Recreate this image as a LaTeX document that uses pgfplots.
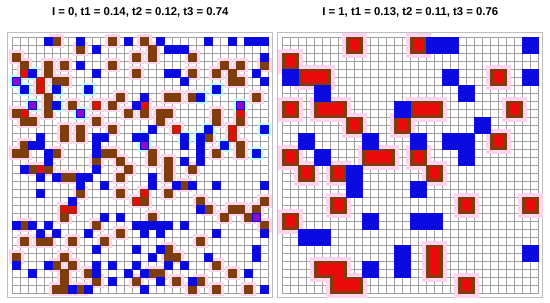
\documentclass[border=0pt]{standalone}
\usepackage{pgfplots}
\pgfplotsset{compat=1.18}
\usepackage{pgfplotstable}
\usepackage{fontspec}
\setmainfont{Liberation Sans}

\definecolor{cbrown}{RGB}{125,62,12}
\definecolor{cblue}{RGB}{10,10,225}
\definecolor{cred}{RGB}{235,10,10}
\definecolor{cpurp}{RGB}{140,10,200}
\definecolor{cpink}{RGB}{255,212,240}
\definecolor{ccyan}{RGB}{195,255,248}
\definecolor{cgrid}{RGB}{160,160,160}
\definecolor{cframe}{RGB}{190,190,190}

% ---------- left panel (I = 0): single cells, column c, row r ----------
\pgfplotstableread{
c r
5 0
12 0
16 0
8 1
17 1
0 2
15 2
17 2
22 2
1 3
4 3
6 3
12 3
26 3
28 3
31 3
4 4
15 4
22 4
25 4
27 4
5 5
6 5
27 5
28 5
4 7
13 7
19 7
20 7
22 7
30 7
4 8
7 8
12 8
0 9
4 9
14 9
16 9
18 9
19 9
25 9
1 10
2 10
10 10
18 10
25 10
28 10
6 11
8 11
12 11
6 12
8 12
24 12
1 13
28 13
0 14
1 14
5 14
11 14
12 14
17 14
25 14
28 14
10 15
13 15
17 15
19 15
2 16
4 16
14 16
19 16
22 16
6 17
7 17
13 17
19 17
21 18
8 19
13 19
19 19
16 20
23 20
31 20
24 21
27 21
28 21
30 21
6 22
17 22
26 22
29 22
1 23
10 23
31 23
13 24
1 25
3 25
4 25
7 25
11 25
23 25
19 26
0 27
6 27
19 27
20 27
5 28
7 28
25 28
6 29
9 29
17 29
18 29
27 29
6 30
10 30
15 30
20 30
23 30
5 31
6 31
8 31
22 31
25 31
29 31
}\LBrown

\pgfplotstableread{
c r
1 4
3 5
3 6
10 8
16 8
1 9
28 9
20 11
27 11
27 12
3 16
16 19
15 20
6 21
7 21
}\LRed

\pgfplotstableread{
c r
4 0
8 0
14 0
18 0
24 0
27 0
29 0
30 0
31 0
10 1
19 1
20 1
21 1
31 2
8 3
2 4
10 4
19 4
20 4
30 4
21 5
31 5
1 6
5 6
9 6
25 6
16 7
23 7
5 8
15 8
17 11
24 11
31 11
3 12
10 12
11 12
15 12
16 12
21 12
23 12
2 13
3 13
10 13
21 13
23 13
26 13
4 14
10 14
23 14
30 14
4 15
21 15
23 15
1 16
10 16
3 17
5 17
8 17
9 17
17 17
8 18
11 18
17 18
20 18
22 18
25 18
31 18
3 19
7 20
23 21
11 22
13 22
0 23
2 23
4 23
15 23
16 23
17 23
18 23
19 23
21 23
3 24
5 24
9 24
16 24
18 24
25 24
31 24
10 26
15 26
18 26
30 26
17 27
24 27
30 27
0 28
4 28
10 28
12 28
15 28
19 28
21 28
2 29
10 29
14 29
16 29
29 29
12 30
18 30
22 30
7 31
9 31
16 31
31 31
}\LBlue

\pgfplotstableread{
c r
0 5
2 8
8 9
28 8
16 13
30 22
}\LPurple

\pgfplotstableread{
c r
0 5
1 6
2 4
2 8
5 6
5 8
9 6
8 9
28 8
24 11
31 11
23 12
21 12
26 13
16 12
16 13
30 14
25 6
23 7
}\LCyan

% ---------- right panel (I = 1): 2x2 blocks, top-left cell c0 r0 ----------
\pgfplotstableread{
c r
8 0
16 0
0 2
2 4
4 4
26 4
0 8
4 8
6 8
16 8
18 8
28 8
8 10
14 10
26 12
0 14
10 14
12 14
16 14
2 16
6 16
18 16
6 20
22 20
30 20
0 22
18 26
18 28
4 28
6 28
6 30
8 30
22 30
}\RRed

\pgfplotstableread{
c r
18 0
20 0
30 0
0 4
20 4
30 4
4 6
22 6
14 8
24 10
2 12
10 12
16 12
20 12
22 12
4 14
22 14
8 16
8 18
16 18
10 22
16 22
18 22
2 24
4 24
14 26
14 28
30 26
10 28
}\RBlue

% centres where two neighbouring red blocks join
\pgfplotstableread{
x y
4 5
6 9
18 9
12 15
6 29
8 31
19 28
7 30
}\RJoin

\pgfplotsset{gridpanel/.style={
  x=6pt, y=6pt, y dir=reverse,
  xmin=0, xmax=32, ymin=0, ymax=32,
  xtick={0,...,32}, ytick={0,...,32},
  xticklabels={}, yticklabels={},
  major tick length=0pt, tick style={draw=none},
  grid=major, grid style={draw=cgrid, line width=0.55pt},
  axis line style={draw=cgrid, line width=0.55pt},
  axis on top, clip=false, anchor=north west,
}}
\pgfplotsset{cellmark/.style={only marks, mark=square*, mark size=#1, mark options={draw=none}}}

\begin{document}
\begin{tikzpicture}
\useasboundingbox (0,0) rectangle (412.5pt,-227.25pt);

\node[font=\bfseries\fontsize{8.5}{10}\selectfont] at (105.2pt,-9.6pt) {I = 0, t1 = 0.14, t2 = 0.12, t3 = 0.74};
\node[font=\bfseries\fontsize{8.5}{10}\selectfont] at (307.7pt,-9.6pt) {I = 1, t1 = 0.13, t2 = 0.11, t3 = 0.76};

% left panel
\begin{axis}[gridpanel, at={(9.225pt,-27.75pt)}]
\draw[cframe, line width=1pt] (axis cs:-0.56,-0.56) rectangle (axis cs:32.56,32.56);
\addplot[cellmark=5pt, color=cpink] table[x expr=\thisrowno{0}+0.5, y expr=\thisrowno{1}+0.5] {\LBrown};
\addplot[cellmark=5pt, color=cpink] table[x expr=\thisrowno{0}+0.5, y expr=\thisrowno{1}+0.5] {\LRed};
\addplot[cellmark=4.6pt, color=ccyan] table[x expr=\thisrowno{0}+0.5, y expr=\thisrowno{1}+0.5] {\LCyan};
\addplot[cellmark=3pt, color=cbrown] table[x expr=\thisrowno{0}+0.5, y expr=\thisrowno{1}+0.5] {\LBrown};
\addplot[cellmark=3pt, color=cbrown] table[x expr=\thisrowno{0}+0.5, y expr=\thisrowno{1}+0.5] {\LRed};
\addplot[cellmark=2.2pt, color=cred] table[x expr=\thisrowno{0}+0.5, y expr=\thisrowno{1}+0.5] {\LRed};
\addplot[cellmark=3pt, color=cblue] table[x expr=\thisrowno{0}+0.5, y expr=\thisrowno{1}+0.5] {\LBlue};
\addplot[cellmark=3pt, color=cblue] table[x expr=\thisrowno{0}+0.5, y expr=\thisrowno{1}+0.5] {\LPurple};
\addplot[cellmark=2.1pt, color=cpurp] table[x expr=\thisrowno{0}+0.5, y expr=\thisrowno{1}+0.5] {\LPurple};
\end{axis}

% right panel
\begin{axis}[gridpanel, at={(211.725pt,-27.75pt)}]
\draw[cframe, line width=1pt] (axis cs:-0.56,-0.56) rectangle (axis cs:32.56,32.56);
\addplot[cellmark=9pt, color=cpink] table[x expr=\thisrowno{0}+1, y expr=\thisrowno{1}+1] {\RRed};
\addplot[cellmark=6pt, color=cbrown] table[x expr=\thisrowno{0}+1, y expr=\thisrowno{1}+1] {\RRed};
\addplot[cellmark=4pt, color=cred] table[x expr=\thisrowno{0}+1, y expr=\thisrowno{1}+1] {\RRed};
\addplot[cellmark=4pt, color=cred] table[x=x, y=y] {\RJoin};
\addplot[cellmark=6pt, color=cblue] table[x expr=\thisrowno{0}+1, y expr=\thisrowno{1}+1] {\RBlue};
\end{axis}
\end{tikzpicture}
\end{document}
